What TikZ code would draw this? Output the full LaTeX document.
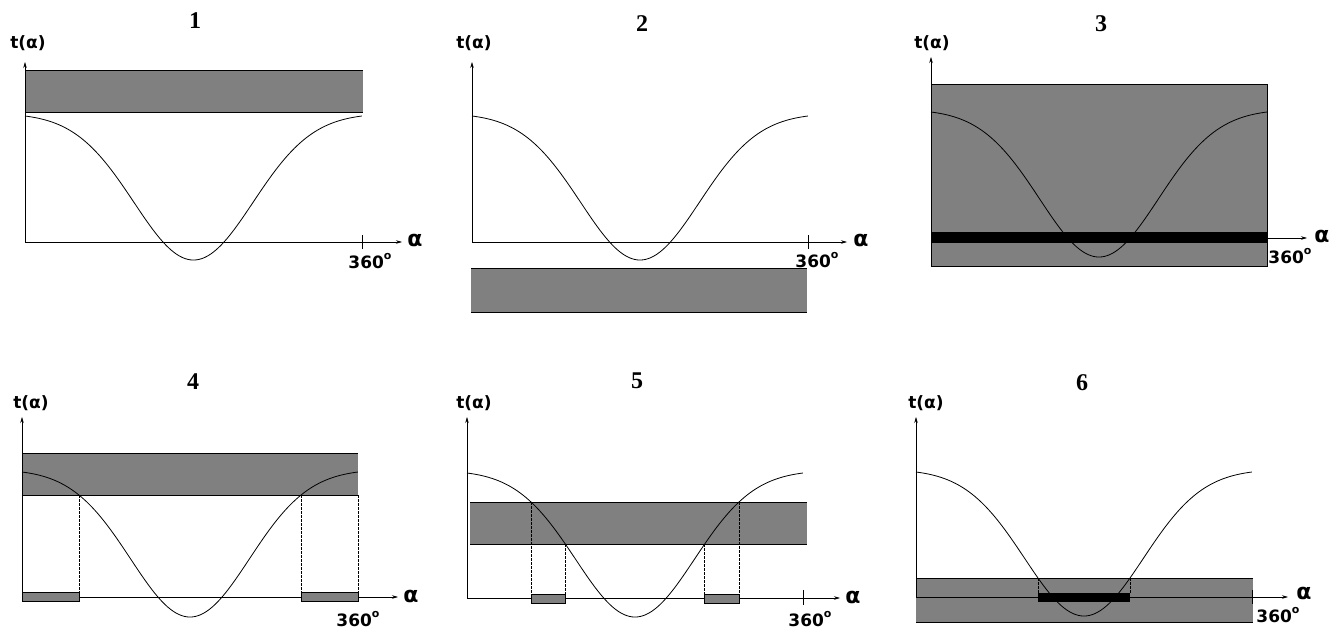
\documentclass[tikz,border=0pt]{standalone}
\usepackage{fontspec}
\setmainfont{DejaVu Sans}
\newfontfamily\lblfont{DejaVu Sans Bold}
\newfontfamily\ttlfont{Liberation Serif Bold}
\usetikzlibrary{arrows.meta,intersections}
\newcommand\degs{360\raisebox{0.5em}{\fontsize{11}{11}\selectfont o}}
% name, x-left, x-right, y-top, y-min
\newcommand\gcurve[5]{%
  \draw[curveln,name path=#1] plot[domain=-1:1,samples=121,smooth]
    ({(#2+#3)/2+\x*(#3-#2)/2},{#5-(#5-#4)*(1-exp(-4*\x*\x))/0.981684});}
\begin{document}
\begin{tikzpicture}[x=1pt,y=-1pt,
  axisln/.style={line width=0.6pt,-{Stealth[length=6pt,width=3.5pt]}},
  curveln/.style={line width=0.8pt},
  edgeln/.style={line width=1pt},
  tickln/.style={line width=0.6pt},
  dashln/.style={line width=0.6pt,dash pattern=on 2.5pt off 1.5pt},
  bandfill/.style={fill=gray},
  smallbox/.style={fill=gray,draw=black,line width=0.5pt},
  lbl/.style={inner sep=0pt,font=\lblfont\fontsize{17}{18}\selectfont},
  deg/.style={inner sep=0pt,font=\lblfont\fontsize{17}{18}\selectfont},
  alf/.style={inner sep=0pt,font=\lblfont\fontsize{22}{24}\selectfont},
  ttl/.style={inner sep=0pt,font=\ttlfont\fontsize{24}{26}\selectfont}]
\useasboundingbox (0,0) rectangle (1342,629);

% ---------- panel 1 ----------
\fill[bandfill] (25,70) rectangle (363,112);
\draw[edgeln] (25,70) -- (363,70) (25,112) -- (363,112);
\gcurve{c1}{25}{362}{116}{260}
\coordinate (o1) at (25,242);
\coordinate (ye1) at (25,62);
\coordinate (xe1) at (402,242);
\draw[axisln] (o1) -- (ye1);
\draw[axisln] (o1) -- (xe1);
\draw[tickln] (362,235) -- (362,249);
\node[ttl] (n1) at (195,21) {1};
\node[lbl] (y1) at (28,43) {t(α)};
\node[alf] (a1) at (415,240) {α};
\node[deg] (d1) at (370,261) {\degs};

% ---------- panel 2 ----------
\fill[bandfill] (471,268) rectangle (807,312);
\draw[edgeln] (471,268) -- (807,268) (471,312) -- (807,312);
\gcurve{c2}{472}{808}{116}{260}
\coordinate (o2) at (472,242);
\coordinate (ye2) at (472,62);
\coordinate (xe2) at (847,242);
\draw[axisln] (o2) -- (ye2);
\draw[axisln] (o2) -- (xe2);
\draw[tickln] (808,235) -- (808,249);
\node[ttl] (n2) at (642,24) {2};
\node[lbl] (y2) at (474,43) {t(α)};
\node[alf] (a2) at (861,240) {α};
\node[deg] (d2) at (817,260) {\degs};

% ---------- panel 3 ----------
\fill[bandfill,draw=black,line width=0.8pt] (931,84) rectangle (1267,266);
\gcurve{c3}{931}{1267}{112}{257}
\fill[black] (931,232) rectangle (1267,243);
\coordinate (o3) at (931,266);
\coordinate (ye3) at (931,57);
\coordinate (xs3) at (1267,238);
\coordinate (xe3) at (1307,238);
\draw[axisln] (o3) -- (ye3);
\draw[axisln] (xs3) -- (xe3);
\node[ttl] (n3) at (1101,24) {3};
\node[lbl] (y3) at (932,43) {t(α)};
\node[alf] (a3) at (1322,236) {α};
\node[deg] (d3) at (1290,256) {\degs};

% ---------- panel 4 ----------
\fill[bandfill] (22,453) rectangle (358,495);
\draw[edgeln] (22,453) -- (358,453);
\draw[edgeln,name path=b4] (22,495) -- (358,495);
\gcurve{c4}{22}{358}{472}{617}
\path[name intersections={of=c4 and b4,sort by=c4,name=i4}];
\coordinate (o4) at (22,597);
\coordinate (ye4) at (22,417);
\coordinate (xe4) at (398,597);
\coordinate (rt4) at (0,592);
\coordinate (rb4) at (0,601);
\coordinate (r4) at (358,495);
\draw[dashln] (i4-1) -- (i4-1 |- o4);
\draw[dashln] (i4-2) -- (i4-2 |- o4);
\draw[dashln] (r4) -- (r4 |- o4);
\draw[axisln] (o4) -- (ye4);
\draw[axisln] (o4) -- (xe4);
\draw[smallbox] (o4 |- rt4) rectangle (i4-1 |- rb4);
\draw[smallbox] (i4-2 |- rt4) rectangle (r4 |- rb4);
\node[ttl] (n4) at (193,382) {4};
\node[lbl] (y4) at (31,403) {t(α)};
\node[alf] (a4) at (411,596) {α};
\node[deg] (d4) at (358,619) {\degs};

% ---------- panel 5 ----------
\fill[bandfill] (470,502) rectangle (807,544);
\draw[edgeln,name path=t5] (470,502) -- (807,502);
\draw[edgeln,name path=b5] (470,544) -- (807,544);
\gcurve{c5}{467}{803}{473}{617}
\path[name intersections={of=c5 and t5,sort by=c5,name=u5}];
\path[name intersections={of=c5 and b5,sort by=c5,name=l5}];
\coordinate (o5) at (467,598);
\coordinate (ye5) at (467,417);
\coordinate (xe5) at (840,598);
\coordinate (rt5) at (0,594);
\coordinate (rb5) at (0,603);
\draw[dashln] (u5-1) -- (u5-1 |- o5);
\draw[dashln] (u5-2) -- (u5-2 |- o5);
\draw[dashln] (l5-1) -- (l5-1 |- o5);
\draw[dashln] (l5-2) -- (l5-2 |- o5);
\draw[axisln] (o5) -- (ye5);
\draw[axisln] (o5) -- (xe5);
\draw[tickln] (803,590) -- (803,605);
\draw[smallbox] (u5-1 |- rt5) rectangle (l5-1 |- rb5);
\draw[smallbox] (l5-2 |- rt5) rectangle (u5-2 |- rb5);
\node[ttl] (n5) at (637,381) {5};
\node[lbl] (y5) at (474,403) {t(α)};
\node[alf] (a5) at (853,597) {α};
\node[deg] (d5) at (810,619) {\degs};

% ---------- panel 6 ----------
\fill[bandfill] (916,578) rectangle (1253,622);
\draw[edgeln,name path=t6] (916,578) -- (1253,578);
\draw[edgeln] (916,622) -- (1253,622);
\coordinate (o6) at (916,597);
\coordinate (ye6) at (916,417);
\coordinate (xe6) at (1288,597);
\draw[axisln] (o6) -- (ye6);
\draw[axisln] (o6) -- (xe6);
\draw[tickln] (1252,590) -- (1252,604);
\gcurve{c6}{916}{1252}{472}{616}
\path[name intersections={of=c6 and t6,sort by=c6,name=u6}];
\coordinate (rt6) at (0,593);
\coordinate (rb6) at (0,602);
\draw[dashln] (u6-1) -- (u6-1 |- rt6);
\draw[dashln] (u6-2) -- (u6-2 |- rt6);
\fill[black] (u6-1 |- rt6) rectangle (u6-2 |- rb6);
\node[ttl] (n6) at (1082,383) {6};
\node[lbl] (y6) at (926,403) {t(α)};
\node[alf] (a6) at (1304,593) {α};
\node[deg] (d6) at (1278,615) {\degs};
\end{tikzpicture}
\end{document}
